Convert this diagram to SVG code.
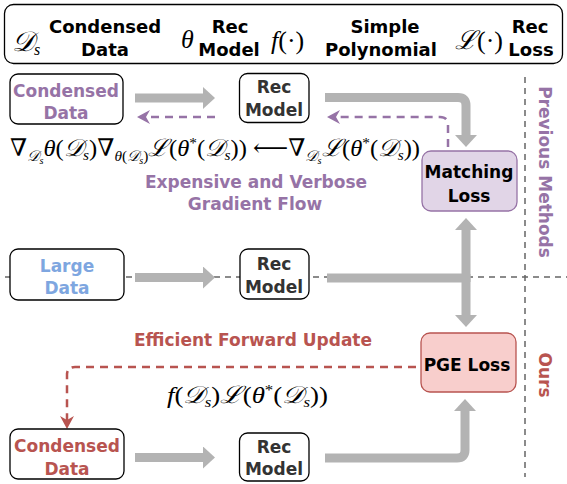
<svg xmlns="http://www.w3.org/2000/svg" width="567" height="484" viewBox="0 0 567 484">
<defs>
<style>
.lbl{font-family:"Comic Sans MS","DejaVu Sans",sans-serif;font-weight:bold;font-size:17px;text-anchor:middle}
.leg{font-family:"Comic Sans MS","DejaVu Sans",sans-serif;font-weight:bold;font-size:18px;text-anchor:middle;fill:#000}
.math{font-family:"Liberation Serif","DejaVu Serif",serif;font-style:italic;fill:#000}
.box{fill:#fff;stroke:#000;stroke-width:1.3}
.gray{fill:none;stroke:#b3b3b3;stroke-width:9}
.dash{fill:none;stroke:#666;stroke-width:1.5;stroke-dasharray:6 5}
.pd{fill:none;stroke:#9673a6;stroke-width:2.5;stroke-dasharray:8 6}
.rd{fill:none;stroke:#b85450;stroke-width:2.5;stroke-dasharray:8 6}
</style>
<marker id="gh" markerUnits="userSpaceOnUse" markerWidth="14" markerHeight="22" refX="1" refY="11" orient="auto"><path d="M0,0 L12,11 L0,22 z" fill="#b3b3b3"/></marker>
<marker id="ph" markerUnits="userSpaceOnUse" markerWidth="14" markerHeight="14" refX="10" refY="7" orient="auto"><path d="M0,0 L13,7 L0,14 L4,7 z" fill="#9673a6"/></marker>
<marker id="rh" markerUnits="userSpaceOnUse" markerWidth="14" markerHeight="14" refX="10" refY="7" orient="auto"><path d="M0,0 L13,7 L0,14 L4,7 z" fill="#b85450"/></marker>
</defs>
<rect width="567" height="484" fill="#fff"/>

<g id="legend">
<rect x="4.5" y="4.5" width="558" height="59" rx="9" fill="#fff" stroke="#000" stroke-width="1.3"/>
<text class="math" x="12" y="51" font-size="28">𝒟<tspan font-size="16" dy="4">s</tspan></text>
<text class="leg" x="105" y="33">Condensed</text>
<text class="leg" x="105" y="56">Data</text>
<text class="math" x="181" y="48" font-size="26">θ</text>
<text class="leg" x="230" y="33">Rec</text>
<text class="leg" x="229" y="56">Model</text>
<text class="math" x="271" y="49" font-size="26">f<tspan font-style="normal">(·)</tspan></text>
<text class="leg" x="385" y="33">Simple</text>
<text class="leg" x="381" y="56">Polynomial</text>
<text class="math" x="455" y="49" font-size="26">ℒ<tspan font-style="normal">(·)</tspan></text>
<text class="leg" x="530" y="33">Rec</text>
<text class="leg" x="531" y="56">Loss</text>
</g>

<g id="dividers">
<line class="dash" x1="525" y1="77" x2="525" y2="477"/>
<line class="dash" x1="5" y1="277" x2="567" y2="277"/>
</g>

<g id="connectors">
<line class="gray" x1="135" y1="98" x2="204" y2="98" marker-end="url(#gh)"/>
<path class="pd" d="M215,117 H140" marker-end="url(#ph)"/>
<path class="gray" d="M325,97.5 H458 Q466,97.5 466,105.5 V136" marker-end="url(#gh)"/>
<path class="pd" d="M448,147 V125 Q448,117 440,117 H330" marker-end="url(#ph)"/>
<line class="gray" x1="135" y1="277.5" x2="204" y2="277.5" marker-end="url(#gh)"/>
<line class="gray" x1="327" y1="278" x2="470" y2="278"/>
<line class="gray" x1="466" y1="282" x2="466" y2="229" marker-end="url(#gh)"/>
<line class="gray" x1="466" y1="274" x2="466" y2="316" marker-end="url(#gh)"/>
<path class="rd" d="M416,367 H75 Q67,367 67,375 V426" marker-end="url(#rh)"/>
<line class="gray" x1="135" y1="457.5" x2="204" y2="457.5" marker-end="url(#gh)"/>
<path class="gray" d="M325,458 H457 Q465,458 465,450 V410" marker-end="url(#gh)"/>
</g>

<g id="condensed-top">
<rect class="box" x="10" y="74" width="113" height="50" rx="8" stroke="#333"/>
<text class="lbl" x="66" y="97" fill="#9673a6">Condensed</text>
<text class="lbl" x="66" y="119" fill="#9673a6">Data</text>
</g>
<g id="rec-top">
<rect class="box" x="239.5" y="73.5" width="69.5" height="49" rx="8"/>
<text class="lbl" x="274" y="93" fill="#333">Rec</text>
<text class="lbl" x="274" y="116" fill="#333">Model</text>
</g>
<g id="matching-loss">
<rect x="422" y="151" width="95" height="60" rx="9" fill="#e1d5e7" stroke="#9673a6" stroke-width="1.3"/>
<text class="lbl" x="469" y="178" fill="#000">Matching</text>
<text class="lbl" x="469" y="202" fill="#000">Loss</text>
</g>

<g id="formula-top">
<text class="math" x="10" y="156" font-size="24" textLength="410" lengthAdjust="spacingAndGlyphs"><tspan font-style="normal">∇</tspan><tspan font-size="15" dy="5">𝒟</tspan><tspan font-size="10" dy="3">s</tspan><tspan dy="-8">θ</tspan><tspan font-style="normal">(</tspan>𝒟<tspan font-size="15" dy="4">s</tspan><tspan font-style="normal" dy="-4">)∇</tspan><tspan font-size="15" dy="5">θ</tspan><tspan font-size="15" font-style="normal">(</tspan><tspan font-size="15">𝒟</tspan><tspan font-size="10" dy="3">s</tspan><tspan font-size="15" font-style="normal" dy="-3">)</tspan><tspan dy="-5">ℒ</tspan><tspan font-style="normal">(</tspan>θ<tspan font-style="normal" font-size="15" dy="-8">*</tspan><tspan font-style="normal" dy="8">(</tspan>𝒟<tspan font-size="15" dy="4">s</tspan><tspan font-style="normal" dy="-4">)) ⟵∇</tspan><tspan font-size="15" dy="5">𝒟</tspan><tspan font-size="10" dy="3">s</tspan><tspan dy="-8">ℒ</tspan><tspan font-style="normal">(</tspan>θ<tspan font-style="normal" font-size="15" dy="-8">*</tspan><tspan font-style="normal" dy="8">(</tspan>𝒟<tspan font-size="15" dy="4">s</tspan><tspan font-style="normal" dy="-4">))</tspan></text>
<text class="lbl" x="256" y="188" fill="#9673a6" font-size="18">Expensive and Verbose</text>
<text class="lbl" x="255" y="210" fill="#9673a6" font-size="18">Gradient Flow</text>
</g>

<g id="large-data">
<rect class="box" x="10" y="249" width="114" height="51" rx="8"/>
<text class="lbl" x="67" y="272" fill="#7ea6e0">Large</text>
<text class="lbl" x="67" y="294" fill="#7ea6e0">Data</text>
</g>
<g id="rec-mid">
<rect class="box" x="240" y="249" width="69" height="50" rx="8"/>
<text class="lbl" x="274" y="270" fill="#333">Rec</text>
<text class="lbl" x="274" y="293" fill="#333">Model</text>
</g>

<g id="pge-loss">
<rect x="421" y="333" width="95" height="59" rx="9" fill="#f8cecc" stroke="#b85450" stroke-width="1.3"/>
<text class="lbl" x="467" y="371" fill="#000">PGE Loss</text>
</g>
<text class="lbl" x="253" y="346" fill="#b85450" font-size="18">Efficient Forward Update</text>
<text class="math" x="167" y="403" font-size="24" textLength="161" lengthAdjust="spacingAndGlyphs">f<tspan font-style="normal">(</tspan>𝒟<tspan font-size="15" dy="4">s</tspan><tspan font-style="normal" dy="-4">)</tspan>ℒ<tspan font-style="normal">(</tspan>θ<tspan font-style="normal" font-size="15" dy="-8">*</tspan><tspan font-style="normal" dy="8">(</tspan>𝒟<tspan font-size="15" dy="4">s</tspan><tspan font-style="normal" dy="-4">))</tspan></text>

<g id="condensed-bottom">
<rect class="box" x="10" y="429" width="114" height="50" rx="8" stroke="#333"/>
<text class="lbl" x="67" y="452" fill="#b85450">Condensed</text>
<text class="lbl" x="67" y="475" fill="#b85450">Data</text>
</g>
<g id="rec-bottom">
<rect class="box" x="239.5" y="433" width="69.5" height="48" rx="8"/>
<text class="lbl" x="274" y="453" fill="#333">Rec</text>
<text class="lbl" x="274" y="475" fill="#333">Model</text>
</g>

<text class="lbl" transform="translate(539 172) rotate(90)" fill="#9673a6" font-size="18">Previous Methods</text>
<text class="lbl" transform="translate(539 375) rotate(90)" fill="#b85450" font-size="18">Ours</text>
</svg>
